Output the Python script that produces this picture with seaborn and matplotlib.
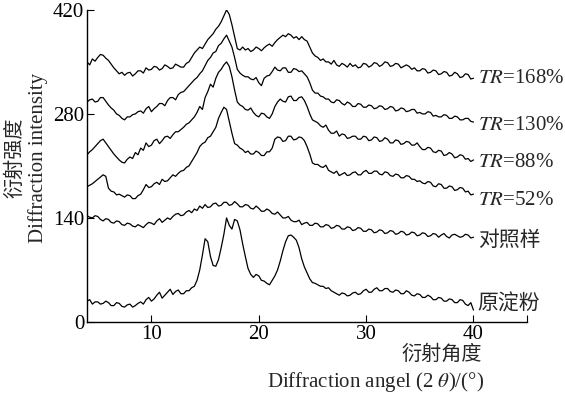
import numpy as np
import pandas as pd
import matplotlib
matplotlib.use('Agg')
import matplotlib.pyplot as plt
import seaborn as sns

sns.set_style('ticks')
plt.rcParams['font.family'] = ['Liberation Serif', 'Noto Sans CJK SC']
plt.rcParams['mathtext.fontset'] = 'stix'

# intensities, 4..40 deg in 0.25 deg steps
# (curves are stacked/offset as in the original)
native = [28, 30, 24, 27, 27, 24, 25, 28, 26, 22, 22, 26, 25, 21, 20, 23, 24, 20, 22, 25,
          27, 24, 30, 33, 28, 31, 36, 40, 32, 36, 40, 44, 37, 41, 43, 38, 38, 42, 42, 46,
          48, 56, 70, 90, 112, 108, 88, 76, 75, 84, 100, 118, 140, 130, 125, 138, 136, 124, 105, 88,
          72, 64, 60, 64, 62, 56, 55, 52, 50, 56, 62, 70, 82, 96, 108, 116, 117, 114, 110, 100,
          85, 74, 66, 58, 53, 52, 50, 48, 48, 45, 46, 42, 40, 38, 36, 39, 38, 35, 36, 39,
          40, 37, 38, 42, 44, 40, 40, 44, 46, 42, 42, 45, 45, 41, 40, 43, 42, 38, 38, 42,
          40, 36, 35, 38, 37, 33, 33, 36, 34, 30, 30, 33, 32, 28, 28, 31, 30, 26, 26, 30,
          29, 24, 22, 26, 16]
control = [143, 141, 140, 143, 142, 138, 136, 139, 138, 134, 133, 136, 135, 131, 130, 133, 132, 129, 128, 131,
           129, 127, 131, 134, 133, 131, 136, 139, 134, 137, 140, 138, 142, 145, 146, 143, 144, 148, 150, 147,
           152, 150, 156, 153, 158, 154, 155, 159, 160, 156, 157, 161, 161, 157, 158, 162, 159, 155, 155, 158,
           157, 153, 152, 156, 153, 149, 149, 152, 150, 146, 145, 148, 144, 140, 140, 142, 137, 135, 135, 137,
           131, 133, 134, 130, 130, 133, 132, 128, 128, 131, 130, 126, 127, 130, 129, 125, 125, 128, 127, 123,
           124, 127, 126, 122, 122, 125, 124, 120, 121, 124, 123, 119, 120, 123, 122, 118, 119, 122, 121, 117,
           118, 121, 120, 116, 117, 120, 119, 115, 116, 119, 118, 114, 117, 119, 115, 113, 117, 118, 116, 114,
           115, 118, 117, 113, 114]
tr52 = [182, 184, 186, 189, 192, 195, 198, 196, 180, 176, 175, 171, 172, 170, 168, 171, 170, 166, 166, 170,
        172, 178, 185, 181, 182, 186, 188, 185, 192, 189, 190, 194, 198, 196, 200, 203, 204, 208, 210, 216,
        222, 228, 236, 240, 242, 248, 250, 256, 262, 274, 282, 289, 286, 270, 254, 240, 238, 234, 232, 228,
        230, 226, 226, 230, 228, 224, 224, 229, 229, 234, 246, 249, 248, 243, 244, 250, 250, 245, 246, 249,
        248, 244, 236, 226, 214, 212, 212, 209, 208, 211, 204, 202, 200, 203, 197, 199, 201, 197, 198, 201,
        202, 198, 198, 202, 204, 200, 200, 203, 203, 199, 198, 202, 201, 197, 196, 199, 198, 194, 194, 197,
        196, 192, 192, 189, 190, 187, 186, 189, 188, 183, 182, 186, 185, 180, 180, 183, 182, 177, 178, 181,
        180, 175, 176, 171, 172]
tr88 = [225, 229, 232, 236, 240, 244, 246, 241, 236, 231, 226, 222, 218, 215, 214, 219, 222, 220, 228, 225,
        234, 231, 241, 236, 238, 244, 246, 240, 244, 249, 250, 247, 252, 256, 256, 259, 262, 266, 268, 272,
        276, 282, 290, 286, 302, 310, 320, 316, 328, 336, 340, 346, 350, 344, 330, 312, 296, 292, 290, 286,
        285, 288, 282, 278, 276, 281, 280, 276, 274, 280, 290, 296, 300, 297, 296, 303, 304, 298, 298, 302,
        303, 298, 290, 280, 272, 270, 268, 264, 262, 265, 258, 254, 254, 257, 250, 253, 252, 247, 248, 250,
        250, 246, 246, 250, 249, 244, 245, 249, 248, 243, 244, 248, 246, 241, 241, 245, 244, 239, 240, 243,
        242, 238, 238, 241, 236, 232, 232, 235, 234, 229, 228, 231, 230, 224, 225, 228, 226, 221, 222, 225,
        224, 219, 220, 216, 218]
tr130 = [296, 299, 300, 296, 297, 302, 302, 297, 292, 288, 285, 280, 278, 274, 272, 276, 276, 279, 280, 283,
         284, 281, 287, 290, 283, 287, 290, 294, 294, 291, 298, 302, 302, 299, 306, 309, 310, 314, 318, 322,
         326, 329, 334, 338, 345, 352, 356, 362, 364, 372, 375, 381, 386, 378, 370, 356, 340, 335, 332, 330,
         330, 327, 326, 329, 322, 318, 328, 331, 332, 337, 343, 339, 338, 342, 342, 336, 336, 341, 340, 337,
         338, 334, 330, 322, 312, 308, 308, 304, 303, 300, 300, 296, 295, 299, 298, 294, 292, 296, 294, 290,
         290, 294, 293, 289, 289, 292, 291, 287, 288, 291, 290, 286, 287, 290, 289, 284, 285, 288, 287, 283,
         284, 286, 286, 281, 282, 280, 280, 283, 282, 277, 278, 276, 276, 279, 278, 274, 274, 277, 276, 272,
         272, 274, 274, 270, 269]
tr168 = [350, 346, 354, 351, 356, 360, 359, 355, 352, 347, 342, 338, 334, 336, 332, 335, 336, 331, 334, 338,
         338, 335, 342, 339, 340, 344, 343, 339, 341, 346, 344, 341, 342, 347, 345, 343, 343, 348, 350, 356,
         362, 366, 370, 368, 374, 380, 384, 388, 394, 398, 404, 412, 420, 414, 400, 384, 368, 366, 370, 366,
         368, 364, 366, 370, 368, 365, 369, 372, 374, 371, 376, 380, 383, 386, 384, 388, 386, 382, 384, 380,
         384, 380, 378, 370, 362, 358, 356, 352, 354, 350, 350, 347, 352, 346, 344, 348, 346, 343, 348, 344,
         346, 342, 343, 348, 347, 343, 345, 349, 348, 344, 346, 350, 349, 344, 345, 348, 347, 342, 344, 346,
         344, 340, 342, 338, 338, 341, 340, 335, 336, 339, 338, 333, 334, 337, 336, 331, 332, 336, 334, 329,
         330, 334, 333, 327, 328]

series = [native, control, tr52, tr88, tr130, tr168]
labels = ['原淀粉', '对照样', r'$\mathit{TR}$=52%', r'$\mathit{TR}$=88%',
          r'$\mathit{TR}$=130%', r'$\mathit{TR}$=168%']
label_y = [23, 108, 164, 214, 265, 328]

fig = plt.figure(figsize=(5.65, 3.96), dpi=100)
ax = fig.add_axes([0.154, 0.187, 0.779, 0.788])

for vals in series:
    angle = 4 + 0.25 * np.arange(len(vals))
    sns.lineplot(x=angle, y=vals, ax=ax, color='black', lw=0.9)

for lab, ly in zip(labels, label_y):
    ax.text(40.4, ly, lab, ha='left', va='center', fontsize=15, clip_on=False)

ax.set_xlim(4, 45)
ax.set_ylim(0, 420)
ax.set_xticks([10, 20, 30, 40, 45])
ax.set_xticklabels(['10', '20', '30', '40', ''])
ax.set_yticks([0, 140, 280, 420])
ax.tick_params(direction='in', length=5, width=0.8, labelsize=15, colors='black', pad=2)
sns.despine(ax=ax)
for s in ['left', 'bottom']:
    ax.spines[s].set_linewidth(1.0)
    ax.spines[s].set_color('black')

# axis titles (bilingual, placed like the original)
fig.text(16 / 565, 1 - 158 / 396, '衍射强度', rotation=90, ha='center', va='center', fontsize=14.5)
fig.text(38 / 565, 1 - 158 / 396, 'Diffraction intensity', rotation=90, ha='center', va='center', fontsize=15)
fig.text(442 / 565, 1 - 355 / 396, '衍射角度', ha='center', va='center', fontsize=14.5)
fig.text(376 / 565, 1 - 382 / 396, 'Diffraction angel (2 $\\theta$)/(°)', ha='center', va='center', fontsize=15)

plt.savefig('out.png', dpi=100)
plt.close()
